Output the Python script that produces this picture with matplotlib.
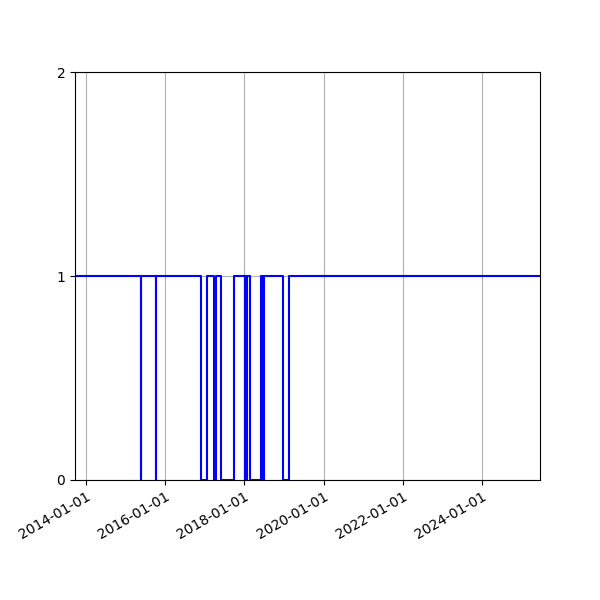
import numpy as np
import pandas as pd
import matplotlib
matplotlib.use("Agg")
import matplotlib.pyplot as plt
import matplotlib.dates as mdates

# state changes (step, value holds until the next date)
change_dates = ["2013-09-22", "2015-05-23", "2015-05-24", "2015-10-09", "2015-10-10",
                "2016-11-29", "2017-01-24", "2017-03-27", "2017-04-17", "2017-06-02",
                "2017-09-27", "2018-01-07", "2018-01-08", "2018-01-20", "2018-01-21",
                "2018-02-24", "2018-06-06", "2018-06-26", "2018-06-27", "2018-12-23",
                "2019-02-16", "2025-06-19"]
states = [1, 0, 1, 0, 1,
          0, 1, 0, 1, 0,
          1, 0, 1, 0, 1,
          0, 1, 0, 1, 0,
          1, 1]

dates = pd.to_datetime(change_dates)

fig, ax = plt.subplots(figsize=(6, 6), dpi=100)
ax.step(dates, states, where='post', color='blue', lw=1.5)

ax.set_xlim(dates[0], dates[-1])
ax.set_ylim(0, 2)
ax.set_yticks([0, 1, 2])
ax.xaxis.set_major_locator(mdates.YearLocator(2))
ax.xaxis.set_major_formatter(mdates.DateFormatter('%Y-%m-%d'))
ax.grid(True)
fig.subplots_adjust(bottom=0.2)
plt.setp(ax.get_xticklabels(), rotation=30, ha='right', rotation_mode='anchor')

plt.savefig('out.png')
